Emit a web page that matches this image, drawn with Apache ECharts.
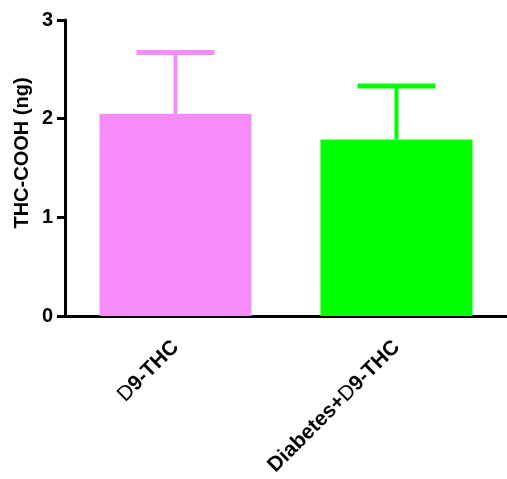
<!DOCTYPE html>
<html>
<head>
<meta charset="utf-8">
<script src="https://cdn.jsdelivr.net/npm/echarts@6/dist/echarts.min.js"></script>
<style>
html,body{margin:0;padding:0;background:#fff;}
#chart{width:507px;height:479px;}
</style>
</head>
<body>
<div id="chart"></div>
<script>
var categories = ['D9-THC', 'Diabetes+D9-THC'];
var means = [2.05, 1.79];
var sdUpper = [0.62, 0.54];
var barColors = ['#F58CF7', '#00FF00'];
var yTicks = [0, 1, 2, 3];

var chart = echarts.init(document.getElementById('chart'));
var FONT = '"Liberation Sans", Arial, sans-serif';

var option = {
  animation: false,
  backgroundColor: '#fff',
  grid: { left: 65, top: 20, width: 444, height: 296, containLabel: false },
  graphic: [{
    type: 'text',
    x: 22, y: 153,
    rotation: Math.PI / 2,
    style: {
      text: 'THC-COOH (ng)',
      font: 'bold 20px ' + FONT,
      fill: '#000',
      align: 'center',
      verticalAlign: 'middle'
    }
  }],
  xAxis: {
    type: 'category',
    data: categories,
    axisLine: { lineStyle: { color: '#000', width: 3 } },
    axisTick: { alignWithLabel: true, length: 8, lineStyle: { color: '#000', width: 3 } },
    axisLabel: {
      rotate: 45,
      margin: 28,
      interval: 0,
      color: '#000',
      fontFamily: FONT,
      fontWeight: 'bold',
      fontSize: 21,
      formatter: function (v) { return v.replace('D9', '{d|D}9'); },
      rich: { d: { fontWeight: 'normal', fontSize: 21, fontFamily: FONT, color: '#000' } }
    },
    splitLine: { show: false }
  },
  yAxis: {
    type: 'value',
    min: yTicks[0],
    max: yTicks[yTicks.length - 1],
    interval: 1,
    axisLine: { show: true, lineStyle: { color: '#000', width: 3 } },
    axisTick: { show: true, length: 8, lineStyle: { color: '#000', width: 3 } },
    axisLabel: {
      color: '#000', fontFamily: FONT, fontWeight: 'bold', fontSize: 20, margin: 12
    },
    splitLine: { show: false }
  },
  series: [
    {
      type: 'bar',
      barWidth: 152,
      data: means.map(function (m, i) { return { value: m, itemStyle: { color: barColors[i] } }; }),
      z: 2
    },
    {
      type: 'custom',
      z: 1,
      data: means.map(function (m, i) { return [i, m, m + sdUpper[i]]; }),
      renderItem: function (params, api) {
        var i = api.value(0);
        var base = api.coord([i, api.value(1)]);
        var top = api.coord([i, api.value(2)]);
        var col = barColors[i];
        var half = 39;
        return {
          type: 'group',
          children: [
            { type: 'line', shape: { x1: base[0], y1: base[1], x2: top[0], y2: top[1] },
              style: { stroke: col, lineWidth: 4 } },
            { type: 'line', shape: { x1: top[0] - half, y1: top[1], x2: top[0] + half, y2: top[1] },
              style: { stroke: col, lineWidth: 5 } }
          ]
        };
      }
    }
  ]
};
chart.setOption(option);
</script>
</body>
</html>
